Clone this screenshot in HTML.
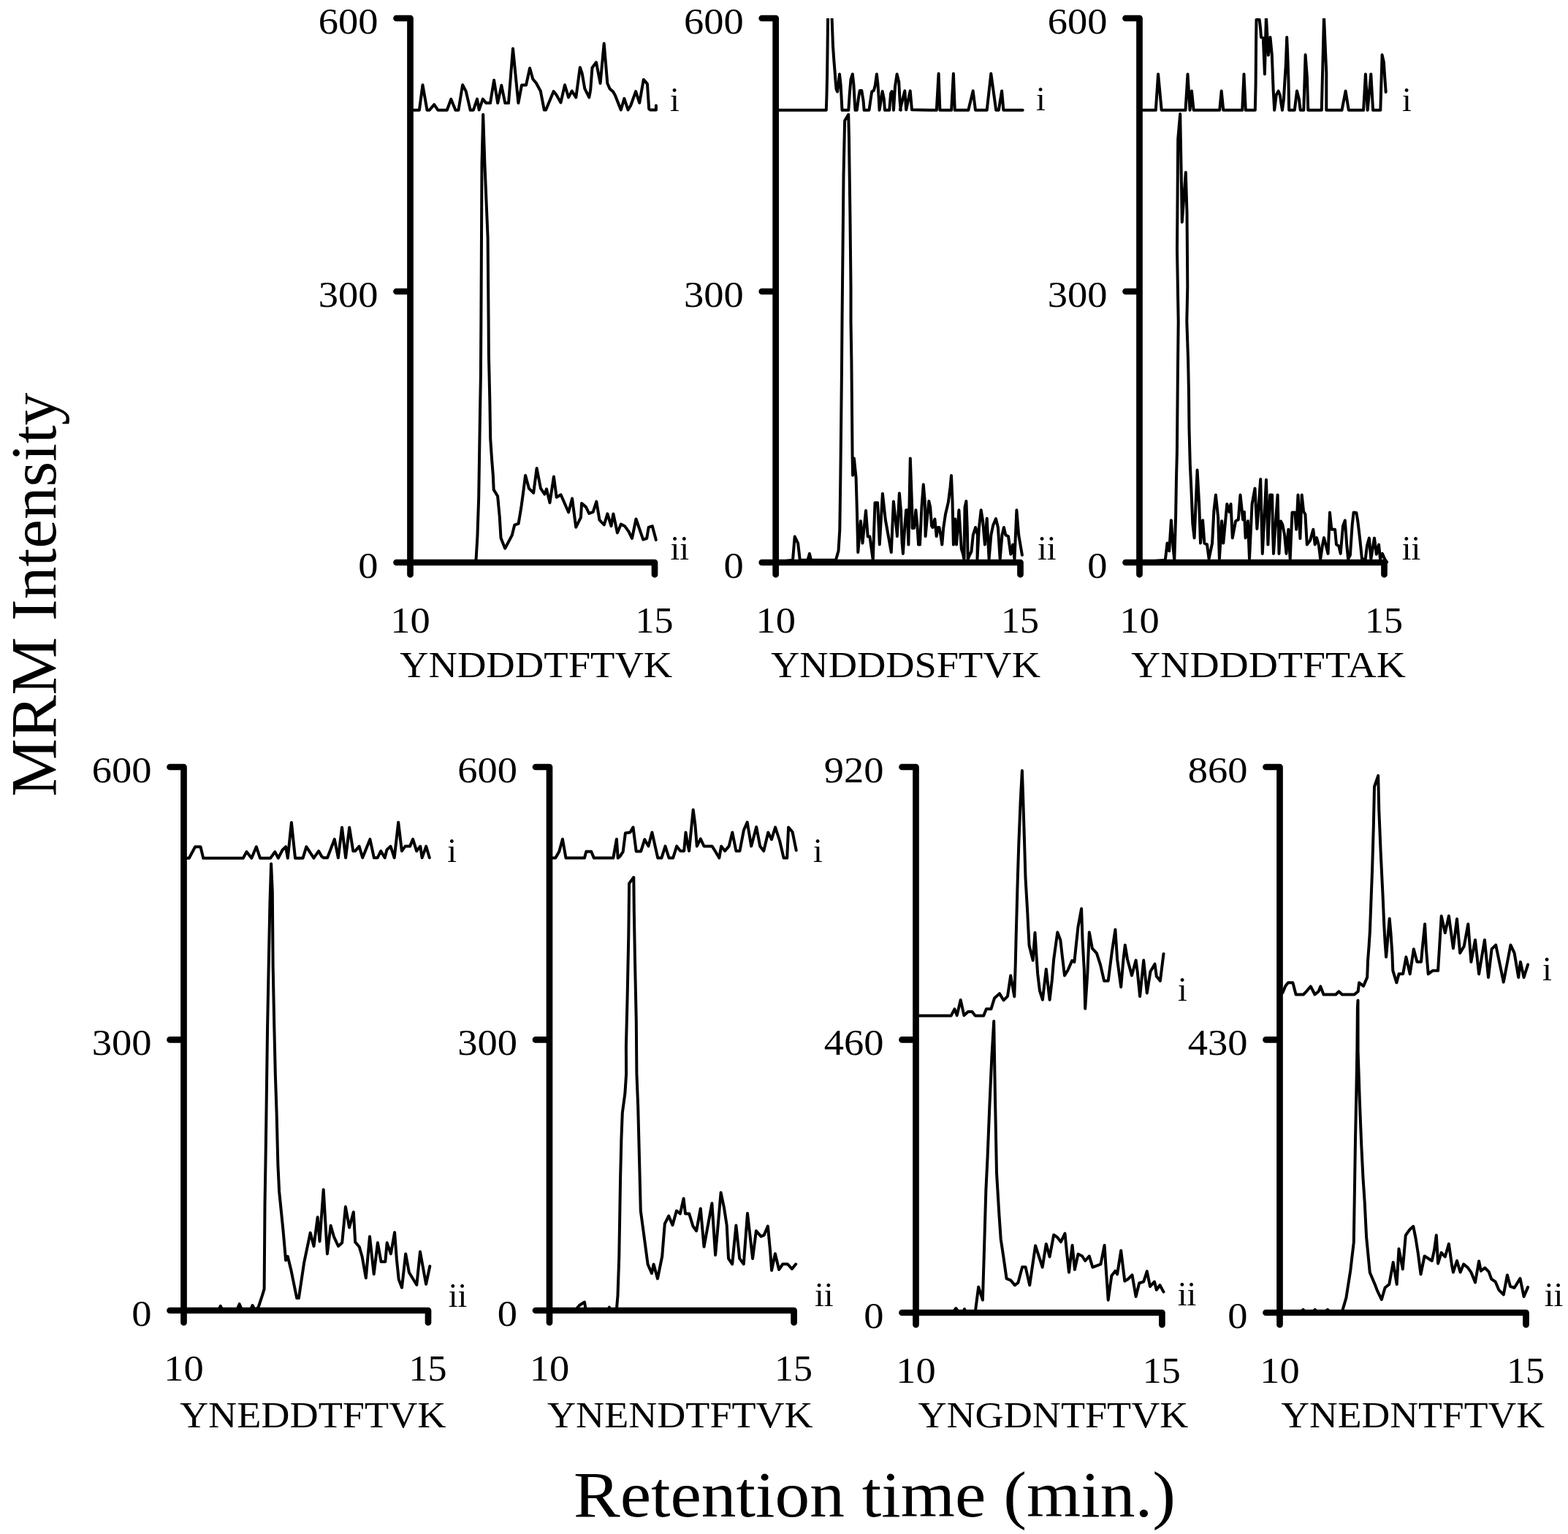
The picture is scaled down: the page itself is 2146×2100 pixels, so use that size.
<!DOCTYPE html>
<html><head><meta charset="utf-8"><title>MRM chromatograms</title>
<style>
html,body{margin:0;padding:0;background:#fff;}
svg{display:block;}
.ax{fill:none;stroke:#000;stroke-width:8.7;stroke-linecap:round;stroke-linejoin:round;}
.tr{fill:none;stroke:#000;stroke-width:4.0;stroke-linejoin:round;stroke-linecap:round;}
text{font-family:"Liberation Serif","Times New Roman",serif;fill:#000;}
.n{font-size:50px;}
.t{font-size:46px;}
.big{font-size:88px;}
</style></head><body>
<svg width="2146" height="2100" viewBox="0 0 2146 2100">
<rect width="2146" height="2100" fill="#fff"/>
<path d="M542.5 25H561.5V786.5M542.5 399H561.5M542.5 770H896V786.5" class="ax"/>
<text transform="translate(517.5 45.5) scale(1.09 1)" class="n" text-anchor="end">600</text>
<text transform="translate(517.5 419.5) scale(1.09 1)" class="n" text-anchor="end">300</text>
<text transform="translate(517.5 790.5) scale(1.09 1)" class="n" text-anchor="end">0</text>
<text transform="translate(561.5 866) scale(1.09 1)" class="n" text-anchor="middle">10</text>
<text transform="translate(895.4 866) scale(1.04 1)" class="n" text-anchor="middle">15</text>
<text x="917" y="151.8" class="t">i</text>
<text x="917.5" y="766" class="t">ii</text>
<text x="547" y="927" class="n" textLength="373.3" lengthAdjust="spacingAndGlyphs">YNDDDTFTVK</text>
<clipPath id="cA"><rect x="561.5" y="25" width="346.5" height="748"/></clipPath>
<path d="M565.5 150.7 573.9 150.7 578.5 116.3 584.5 150.7 587.7 150.7 594.2 143.1 599.3 150.7 611.8 150.7 617.3 135.7 623.4 150.7 627.5 150.7 633.1 116.3 637.7 124.9 643.7 150.7 647.9 150.7 653 135.6 655.7 150.4 660.8 135.6 665.4 141.1 671 141.1 676.1 109.8 681.2 141.1 686.3 116.8 691.3 141.1 696 141.1 702 66.4 709.4 141.1 714 116.6 720 116.6 725.1 93.2 729.3 108.3 733.9 113.8 739.4 124 739.7 124.2 744.8 150.5 747.1 150.5 757.7 125.1 761.4 129.7 767.5 140.4 773 116.3 778.1 133.4 782.7 124.6 788.3 133.4 793.8 92.3 796.6 100.1 800.3 121.4 806.3 133.4 808.2 123.2 810.5 92.7 816 85.3 821.6 114 826.7 59.4 831.3 114 834.5 121.4 839.1 125.6 841.9 130.6 849.8 150.5 854.4 134.8 859.5 150.5 863.2 144.5 870.1 125.1 875.2 140.8 880.8 108.9 885.9 114.9 888.2 149.1 890 150.5 897.9 150.5 897.9 144.5" class="tr" clip-path="url(#cA)"/>
<path d="M562 769.5 651 769.5 651.6 765 653.4 734.6 655.2 681.1 657 565 657.9 515 658.4 440 659.5 224 661.2 156.8 663.4 224 667.6 324.9 668.6 440 668.9 484.6 670.4 550.7 671.2 600.7 673 627.5 674.8 650.7 675.7 670.4 681.1 679.3 683.8 707.9 685.5 736.4 691.2 750.7 700.7 732.9 704.3 718.6 709.6 716.8 713.2 695.4 715.9 675.7 719.1 650.7 723.9 668.6 730.2 674.8 734.6 640.9 740 668.6 745.4 676.6 748 669.5 752.5 688.2 757.9 652.5 761.7 680.7 767.6 677.3 778.1 701.3 783.1 682.4 788.2 721.8 794.9 708.4 796.1 689.1 802 694.1 806.2 702.9 811.7 700.8 816.3 686.6 820.5 711.8 826.8 718.5 831.4 703.4 836.5 720.2 839.4 703.4 844.9 729.4 849.9 717.6 855 720.2 860.4 727.7 865 737 870.5 710.5 880.2 738.7 885.2 737 887.7 721.8 892.8 720.2 897.8 739.1" class="tr" clip-path="url(#cA)"/>
<path d="M1042.7 25H1061.7V786.5M1042.7 399H1061.7M1042.7 770H1396.5V786.5" class="ax"/>
<text transform="translate(1017.7 45.5) scale(1.09 1)" class="n" text-anchor="end">600</text>
<text transform="translate(1017.7 419.5) scale(1.09 1)" class="n" text-anchor="end">300</text>
<text transform="translate(1017.7 790.5) scale(1.09 1)" class="n" text-anchor="end">0</text>
<text transform="translate(1061.7 866) scale(1.09 1)" class="n" text-anchor="middle">10</text>
<text transform="translate(1395.9 866) scale(1.04 1)" class="n" text-anchor="middle">15</text>
<text x="1418" y="150.6" class="t">i</text>
<text x="1420" y="766" class="t">ii</text>
<text x="1055" y="927" class="n" textLength="369" lengthAdjust="spacingAndGlyphs">YNDDDSFTVK</text>
<clipPath id="cB"><rect x="1061.7" y="25" width="346.8" height="748"/></clipPath>
<path d="M1065.5 150.8 1130.8 150.8 1131.4 132.5 1132.1 101.9 1132.6 62.2 1133.1 20.5 1135.4 1.1 1138.4 20.5 1139.1 39 1140 63.1 1141.4 83.4 1142.6 98.2 1143.7 113 1144.6 122.3 1146.2 125.5 1149 101.5 1150.6 115.8 1151.8 137.1 1152.5 150.8 1161.3 150.8 1162.7 129.7 1164.5 108.4 1166.8 101.5 1168.4 115.8 1169.6 137.1 1170.5 150.8 1172.8 150.8 1175.2 132.5 1176.7 124.1 1179.3 124.1 1181.6 138 1182.6 150.8 1189.5 150.8 1191.3 138 1193.2 125.5 1196 123.7 1197.8 116.7 1199.9 101.5 1201.5 115.8 1202.9 137.1 1203.6 150.8 1205.7 138 1207.7 125.1 1209.8 135.2 1211 150.8 1217.2 150.8 1219.1 127.8 1220.7 125.1 1222.3 135.2 1223 150.8 1225.1 117.7 1227.6 101.5 1230.2 112.1 1231.6 138 1232.8 150.8 1231.8 150.3 1238.3 124.4 1240.2 150.3 1245.7 124.4 1248 150.3 1281.8 150.8 1284.6 100.8 1286.4 150.8 1302.1 150.8 1304.9 100.8 1306.8 150.8 1325.3 150.8 1331.7 124.4 1335 150.8 1350.7 150.8 1356.3 100.8 1363.2 150.8 1366.9 150.8 1371.1 124.4 1373.4 150.8 1399.7 150.8" class="tr" clip-path="url(#cB)"/>
<path d="M1062 769.5 1085 766.8 1087.7 734.6 1092.1 743.6 1094.8 766.8 1105.5 766.8 1107.9 757.9 1110 766.8 1143.9 766.8 1147.5 754.3 1149.3 725.7 1150.2 663.2 1151.1 586.4 1152 504.3 1152.5 440 1154.5 240.8 1156.1 165.2 1161.2 156.8 1162 190.4 1163.4 291.3 1164.5 392.1 1164.5 440 1165.4 493.6 1166.6 625.7 1167.1 650.7 1168.9 627.5 1171.6 654.3 1172.9 698.9 1174.3 756.1 1177.9 713.2 1180.5 743.6 1185 698.9 1187.7 734.6 1190.4 734.6 1194.8 766.8 1197.5 688.2 1201.1 688.2 1203.8 745.4 1207.9 675.7 1211.8 711.4 1219.8 756.1 1222.9 686.4 1227.9 732.9 1227.8 734.2 1230.9 675.2 1233 699.3 1234.5 741.8 1235.9 757.9 1238.2 722.9 1240.1 698.3 1241.5 698.3 1243.4 745.6 1245.8 627.4 1248.2 694.5 1248.6 722.9 1251 722.9 1253.4 698.3 1255.3 718.2 1257.1 745.6 1259 745.6 1261.4 694.5 1263.8 663.3 1265.7 685.1 1266.6 734.2 1268.5 713.4 1271.3 686 1273.2 694.5 1275.1 720.1 1276.5 722 1279.4 710.6 1281.7 734.2 1283.6 722 1285.5 722 1287.4 732.4 1289.3 745.6 1291.2 722.9 1294 704 1297.8 687.9 1300.6 666.2 1302 651 1303.5 685.1 1304.9 745.6 1307.2 710.6 1309.1 745.6 1312.4 698.3 1314.3 727.6 1315.8 751.3 1318.1 758.8 1319.5 766.4 1320.5 694.5 1322.4 686 1323.8 722.9 1324.7 765.4 1327.1 759.8 1329.5 755 1331.8 732.4 1335.1 722 1338 732.4 1337.5 765.4 1339.9 722.9 1342.7 698.3 1345.1 713.4 1347.9 745.6 1350.7 709.7 1353.6 765.4 1356.4 732.4 1359.2 719.1 1363 710.1 1365.9 722 1368.7 765.4 1371.5 732.4 1373.9 722 1376.3 732.4 1380 734.2 1383.3 758.8 1386.2 745.6 1388.5 765.4 1391.4 698.3 1394.2 732.4 1398.9 759.8" class="tr" clip-path="url(#cB)"/>
<path d="M1540.5 25H1559.5V786.5M1540.5 399H1559.5M1540.5 770H1894.5V786.5" class="ax"/>
<text transform="translate(1515.5 45.5) scale(1.09 1)" class="n" text-anchor="end">600</text>
<text transform="translate(1515.5 419.5) scale(1.09 1)" class="n" text-anchor="end">300</text>
<text transform="translate(1515.5 790.5) scale(1.09 1)" class="n" text-anchor="end">0</text>
<text transform="translate(1559.5 866) scale(1.09 1)" class="n" text-anchor="middle">10</text>
<text transform="translate(1893.9 866) scale(1.04 1)" class="n" text-anchor="middle">15</text>
<text x="1919" y="151.8" class="t">i</text>
<text x="1918.8" y="765.5" class="t">ii</text>
<text x="1548" y="927" class="n" textLength="375.9" lengthAdjust="spacingAndGlyphs">YNDDDTFTAK</text>
<clipPath id="cC"><rect x="1559.5" y="25" width="347" height="748"/></clipPath>
<path d="M1563.8 150.8 1581.8 150.8 1585.1 101.5 1589.7 150.8 1622.5 150.8 1625.5 101.5 1628.5 150.8 1631 124.6 1633.6 150.8 1669.2 150.8 1671.7 124.6 1674.3 150.8 1700.2 150.8 1702.5 101.5 1704.8 150.8 1717.8 150.8 1718.6 115.8 1719.1 56.6 1719.5 27 1723.7 27 1725.1 39 1726 51.1 1728.8 52 1730.9 101.5 1732.9 22.4 1735.9 75.6 1738.5 51.1 1740.8 75.1 1742.7 124.1 1744.2 150.8 1746.8 129.7 1749.6 124.6 1751.9 130.6 1753.3 140.8 1755 150.8 1757 135.2 1758.4 110.3 1759.8 89 1761.2 51.1 1762.1 70.5 1763.5 112.1 1764.2 150.8 1771.8 150.8 1775 124.6 1777.8 135.2 1779.7 150.8 1784.3 150.8 1786.6 75.1 1788.9 105.6 1790.3 150.8 1808.8 150.8 1812 22.4 1815.3 100.1 1815.3 150.8 1836.5 150.8 1841.6 124.6 1845.8 150.8 1866.1 150.8 1868.9 101.5 1871.7 150.8 1876.3 101.5 1879.1 150.8 1889.3 150.8 1891.6 75.1 1893.9 85.3 1895.3 106.6 1896.7 126" class="tr" clip-path="url(#cC)"/>
<path d="M1562 769.5 1594.8 766.8 1597.5 743.6 1600.2 754.3 1602.9 712.3 1605.5 748.9 1607.3 766.8 1609.1 707.9 1610 654.3 1610.9 618.6 1611.8 522.1 1612.7 440 1611 341.9 1612.2 190.5 1615.2 156 1616.9 249.4 1617.8 304.1 1622.8 235.9 1624.5 291.4 1625.3 392.4 1624.3 440 1626.1 493.6 1627 538.2 1627.5 586.4 1628.8 636.4 1630.5 672.1 1632.3 716.8 1634.6 736.4 1638.6 643.6 1641.2 690 1643 743.6 1646.1 712.3 1648.4 743.6 1652 745.4 1654.6 765 1659.1 743.6 1661.4 698.9 1663.9 677.5 1667.1 707.9 1668.9 765 1672.1 713.2 1674.3 743.6 1679.3 690 1682.3 700.7 1684.5 690 1686.8 736.4 1691.2 713.2 1694.8 711.4 1697.5 677.5 1701.1 711.4 1702.9 700.7 1704.6 736.4 1707.9 713.2 1710 765 1713.6 690 1717.5 668.6 1720.4 723.9 1725.2 656.1 1727.8 757.9 1733 656.7 1735.4 745.6 1738.2 677.5 1741.1 677.5 1742 727.6 1743 757.9 1745.3 722.9 1748.6 677.5 1750.5 757.9 1752.9 713.4 1755.3 718.2 1758.1 732.4 1760.5 757.9 1763.3 724.8 1765.7 765.4 1768.5 701.6 1772.3 701.6 1774.2 724.8 1776.5 677.5 1779.4 737.1 1781.7 677.5 1784.1 700.2 1786.4 704 1788.8 745.6 1793.1 739.9 1797.3 724.8 1799.7 745.6 1802 736.1 1804.9 746.5 1807.2 765.4 1810.1 745.6 1812 736.1 1817.6 757.9 1820 701.6 1822.4 724.8 1827.1 724.8 1829 745.6 1832.3 747.5 1834.7 757.9 1838 720.1 1840.8 712.5 1843.2 745.6 1845.1 765.4 1847.9 759.8 1850.7 718.2 1852.6 701.6 1856.4 702.1 1858.3 713.4 1861.1 737.1 1864 765.4 1868.7 765.4 1871.1 746.5 1873.9 736.6 1876.3 765.4 1878.6 751.3 1881 736.6 1883.8 758.8 1887.1 745.6 1889 765.4 1891.9 757.9 1895.2 765.4 1898 769.5" class="tr" clip-path="url(#cC)"/>
<path d="M232.5 1050H251.5V1810.5M232.5 1423.4H251.5M232.5 1794H586V1810.5" class="ax"/>
<text transform="translate(207.5 1070.5) scale(1.09 1)" class="n" text-anchor="end">600</text>
<text transform="translate(207.5 1443.9) scale(1.09 1)" class="n" text-anchor="end">300</text>
<text transform="translate(207.5 1814.5) scale(1.09 1)" class="n" text-anchor="end">0</text>
<text transform="translate(251.5 1890) scale(1.09 1)" class="n" text-anchor="middle">10</text>
<text transform="translate(585.4 1890) scale(1.04 1)" class="n" text-anchor="middle">15</text>
<text x="612.2" y="1180" class="t">i</text>
<text x="613.8" y="1789.2" class="t">ii</text>
<text x="245.9" y="1954" class="n" textLength="364.6" lengthAdjust="spacingAndGlyphs">YNEDDTFTVK</text>
<clipPath id="cD"><rect x="251.5" y="1050" width="346.5" height="747"/></clipPath>
<path d="M255.5 1174.7 258.8 1174.7 267.1 1159.2 274.5 1159.2 278.2 1174.7 332.8 1174.7 337.4 1166.1 344.3 1174.7 350.8 1159.2 355.9 1174.7 370.2 1174.7 376.3 1166.1 380.9 1174.7 386.4 1163.8 391.1 1159.2 393.8 1174.7 398.9 1125.9 404 1174.7 414.6 1174.7 419.3 1159.2 429.4 1174.7 436.1 1165.1 440.3 1172.5 443 1174.3 448.1 1174.3 457.8 1148.9 462.9 1174.3 468 1132.7 473.1 1174.3 478.2 1132.7 483.3 1165.1 486 1165.1 491.6 1158.6 496.2 1174.3 506.4 1148.9 511.9 1174.3 516.6 1174.3 521.2 1165.1 526.7 1174.3 529.5 1163.2 534.6 1158.6 539.7 1174.3 545.2 1125.8 549.9 1165.1 554.5 1158.6 561 1158.6 565.1 1148.9 570.2 1165.1 575.3 1158.6 577.6 1174.3 583.2 1158.6 587.8 1174.3" class="tr" clip-path="url(#cD)"/>
<path d="M255.4 1793.5 299.1 1793.5 301.8 1787.9 304.5 1793.5 324.1 1793.5 327.7 1785.2 331.2 1793.5 342.9 1793.5 345.5 1787 349.1 1793.5 353.6 1789.6 358.9 1773.6 361.6 1764.6 362.1 1702.1 362.5 1648.6 363.4 1595 364.3 1536.1 365.2 1470 366.1 1405.3 367.7 1321.3 369.4 1237.2 371.1 1182.6 372.8 1220.4 373.6 1321.3 375.3 1405.3 376.8 1470 378.6 1523.6 380.4 1595 382.1 1630.7 384.8 1657.5 387.5 1684.3 391.1 1725.4 393.8 1720 398.2 1737.9 406.2 1777.1 408.9 1777.1 416.1 1728.9 424.7 1687.6 429.5 1706 434.7 1666.3 437.5 1699.4 442.7 1628.5 447.9 1716.4 452.6 1677.7 456.9 1692.8 463 1706 468.2 1701.3 472.9 1652.1 478.1 1680.5 483.8 1659.2 486.2 1700.4 491.8 1707 495.6 1720.2 500.8 1749.5 506 1692.8 511.7 1744.3 516.9 1701.3 521.6 1727.3 527.3 1727.3 529.7 1701.3 534.9 1716.4 540.1 1687.1 542.9 1724 545.7 1751.4 550 1762.7 555.2 1716.4 559.9 1742 570.3 1759 575 1713.6 583.1 1758 588.3 1733.4" class="tr" clip-path="url(#cD)"/>
<path d="M733 1050H752V1810.5M733 1423.4H752M733 1794H1086.6V1810.5" class="ax"/>
<text transform="translate(708 1070.5) scale(1.09 1)" class="n" text-anchor="end">600</text>
<text transform="translate(708 1443.9) scale(1.09 1)" class="n" text-anchor="end">300</text>
<text transform="translate(708 1814.5) scale(1.09 1)" class="n" text-anchor="end">0</text>
<text transform="translate(752 1890) scale(1.09 1)" class="n" text-anchor="middle">10</text>
<text transform="translate(1086 1890) scale(1.04 1)" class="n" text-anchor="middle">15</text>
<text x="1113" y="1179.9" class="t">i</text>
<text x="1114.9" y="1787.9" class="t">ii</text>
<text x="749" y="1954" class="n" textLength="363.7" lengthAdjust="spacingAndGlyphs">YNENDTFTVK</text>
<clipPath id="cE"><rect x="752" y="1050" width="346.6" height="747"/></clipPath>
<path d="M755.5 1174.6 760.2 1174.6 765.3 1165.8 769.9 1148.7 774.5 1174.6 799.9 1174.6 802.3 1165.8 809.2 1165.8 812.9 1174.6 839.3 1174.6 843.9 1148.7 845.7 1174.6 848.5 1172.3 852.7 1165.8 855.9 1140.4 862.4 1139.5 866.5 1132.5 870.7 1165.4 877.2 1165.4 882.3 1149.2 887.4 1158.4 892.4 1139.5 900.3 1174.6 905.4 1174.6 910.5 1158.4 915.6 1174.6 921.1 1174.6 926.2 1158.4 931.1 1164.9 936.2 1164.9 938.5 1139.5 940.8 1153.8 943.1 1164.9 945.4 1141.8 948.7 1108.5 951.4 1128.8 953.8 1158.4 958.8 1148.3 963.5 1158.4 974.6 1158.4 979.2 1165.8 984.3 1174.6 987.1 1158.4 992.1 1164.9 997.7 1158.4 1002.3 1139.5 1007.4 1164.9 1012.5 1164.9 1018 1136.2 1022.7 1125.6 1028.2 1158.4 1035.2 1132.1 1040.2 1158.4 1045.3 1164.9 1051.3 1139.5 1056 1149.2 1061.1 1132.5 1067.1 1151 1072.6 1174.6 1077.2 1174.6 1079.1 1132.5 1084.6 1139 1089.7 1164" class="tr" clip-path="url(#cE)"/>
<path d="M755.4 1793.5 787.5 1793.5 792.9 1787 800 1782.5 801.8 1793.5 832.1 1793.5 833.9 1789.6 835.7 1793.5 843.8 1793.5 845.5 1773.6 847.3 1720 848.2 1666.4 849.1 1612.9 850.4 1559.3 851.8 1523.6 855.4 1496.8 857.1 1470 856.9 1432.1 858.6 1364.9 860.3 1280.8 861.1 1209.4 867.3 1201 867.8 1247.2 869 1314.5 870.8 1398.5 871.4 1470 873.2 1514.6 875 1586.1 876.8 1657.5 880.4 1684.3 886.6 1730.7 892 1743.2 894.6 1730.7 900 1750.4 906.2 1720 909.8 1675.4 915.2 1664.6 920.5 1677.1 925.9 1657.5 930.9 1661.4 935.6 1640.7 938 1661.4 943.2 1661.4 948.4 1678.5 953.1 1685.1 958.8 1654.4 963.5 1706.8 974.4 1647.3 979.1 1718.2 986.6 1632.6 990.9 1652.9 994.7 1677.5 997 1722.9 1002.2 1730.5 1007.4 1677.5 1012.2 1722.9 1017.8 1730.5 1023 1661 1030.1 1722.9 1034.9 1685.1 1041.5 1692.6 1045.7 1690.8 1050.9 1678.5 1054.2 1713.4 1056.1 1739 1060.9 1716.3 1066.1 1738 1071.3 1730.5 1077.9 1730.5 1084 1737.1 1089.2 1730.5" class="tr" clip-path="url(#cE)"/>
<path d="M1234.5 1050H1253.5V1813.5M1234.5 1423.4H1253.5M1234.5 1797H1590.4V1813.5" class="ax"/>
<text transform="translate(1209.5 1070.5) scale(1.09 1)" class="n" text-anchor="end">920</text>
<text transform="translate(1209.5 1443.9) scale(1.09 1)" class="n" text-anchor="end">460</text>
<text transform="translate(1209.5 1817.5) scale(1.09 1)" class="n" text-anchor="end">0</text>
<text transform="translate(1253.5 1893) scale(1.09 1)" class="n" text-anchor="middle">10</text>
<text transform="translate(1589.8 1893) scale(1.04 1)" class="n" text-anchor="middle">15</text>
<text x="1612" y="1370" class="t">i</text>
<text x="1611.8" y="1787.4" class="t">ii</text>
<text x="1256.4" y="1954" class="n" textLength="370" lengthAdjust="spacingAndGlyphs">YNGDNTFTVK</text>
<clipPath id="cF"><rect x="1253.5" y="1050" width="348.9" height="750"/></clipPath>
<path d="M1257.9 1390.4 1301.8 1390.4 1306.4 1381.3 1309.7 1390.1 1314.7 1368.9 1319.4 1390.1 1324.9 1385 1330.5 1385 1334.6 1390.4 1346.2 1390.4 1349.9 1381.3 1356.4 1381.3 1361 1366.5 1367.9 1360.1 1373.5 1369.3 1379 1363.8 1383.2 1335.6 1388.3 1364.2 1389.7 1322.1 1390.6 1284.2 1392.5 1213.3 1394.3 1155.5 1396.6 1097.8 1398.9 1055 1400 1086.2 1401.8 1144 1403.5 1201.7 1406.3 1250 1407.2 1268.5 1408.6 1294.4 1413.7 1314.7 1416.5 1276.8 1418.3 1305.5 1420.2 1333.2 1423 1356.4 1426.9 1368.7 1431.8 1326.7 1433.9 1345.6 1436.6 1368.7 1439.9 1341 1442.2 1313.2 1447.3 1276.2 1451.4 1287.3 1453.8 1308.6 1457 1335.4 1461.6 1328 1467.2 1315.1 1470.4 1316.9 1472.7 1294.7 1475.5 1268.8 1480.1 1243.9 1481.5 1285.5 1483.8 1327.1 1485.2 1380.8 1488.4 1331.7 1490.8 1276.2 1494.9 1298.4 1500.9 1304.9 1506 1320.6 1511.1 1342.8 1516.7 1342.8 1521.7 1304 1526.4 1272.5 1529.1 1313.2 1534.2 1351.2 1537.5 1313.2 1539.8 1293.8 1543 1313.2 1549 1335.4 1554.6 1314.6 1556.9 1331.7 1560.1 1364.1 1565.2 1314.6 1569.8 1359.5 1574.5 1329.9 1580.5 1319.7 1582.8 1336.4 1587.9 1342.8 1592.5 1305.8" class="tr" clip-path="url(#cF)"/>
<path d="M1257.9 1796.5 1304.2 1796.5 1308.3 1791 1312.1 1796.5 1317.8 1796.5 1320 1792.1 1322.3 1796.5 1334.7 1796.5 1339.2 1761.7 1344.9 1779.7 1347.1 1707.5 1349.4 1628.4 1351.6 1583.3 1354.3 1515.5 1357.3 1447.8 1360.2 1398.1 1361.8 1492.9 1364 1605.8 1367.4 1662.3 1369.7 1696.2 1373.1 1718.8 1377.6 1750.4 1383.2 1752.6 1388.9 1759.4 1393.4 1756 1399.1 1734.6 1403.6 1734.6 1409.2 1759.4 1417.1 1705.2 1426.7 1734.8 1431.8 1702.9 1436.6 1720.5 1442.2 1690.4 1446.8 1693.6 1451.9 1700.1 1457.5 1688.6 1459.8 1712.1 1463 1741.7 1467.6 1704.7 1470.9 1738 1475.5 1716.8 1481 1719.5 1485.2 1726 1490.8 1719.5 1495.4 1734.8 1506.5 1730.6 1511.6 1704.7 1513.4 1732.5 1516.7 1779.7 1521.3 1746.4 1526.4 1739.9 1529.1 1744.5 1534.2 1712.1 1539.3 1753.8 1543.9 1751 1549.5 1745.4 1554.6 1775 1559.2 1756.5 1565.2 1754.7 1569.8 1740.4 1574 1761.2 1580 1754.7 1582.8 1765.8 1587.4 1759.3 1592.5 1768.6" class="tr" clip-path="url(#cF)"/>
<path d="M1732.5 1050H1751.5V1813.5M1732.5 1423.4H1751.5M1732.5 1797H2088.5V1813.5" class="ax"/>
<text transform="translate(1707.5 1070.5) scale(1.09 1)" class="n" text-anchor="end">860</text>
<text transform="translate(1707.5 1443.9) scale(1.09 1)" class="n" text-anchor="end">430</text>
<text transform="translate(1707.5 1817.5) scale(1.09 1)" class="n" text-anchor="end">0</text>
<text transform="translate(1751.5 1893) scale(1.09 1)" class="n" text-anchor="middle">10</text>
<text transform="translate(2087.9 1893) scale(1.04 1)" class="n" text-anchor="middle">15</text>
<text x="2111" y="1342" class="t">i</text>
<text x="2113.7" y="1787.7" class="t">ii</text>
<text x="1753.2" y="1954" class="n" textLength="360.8" lengthAdjust="spacingAndGlyphs">YNEDNTFTVK</text>
<clipPath id="cG"><rect x="1751.5" y="1050" width="349" height="750"/></clipPath>
<path d="M1755.5 1359.1 1759.2 1349.9 1762.9 1345.3 1769.4 1345.3 1773.6 1361.5 1783.8 1361.5 1787.9 1357.3 1793.9 1350.4 1799.5 1361.5 1804.6 1357.3 1807.3 1350.4 1811.5 1361.5 1828.2 1361.5 1832.3 1357.3 1836.9 1361.5 1853.6 1361.5 1858.7 1357.3 1860.1 1345.3 1866.1 1349.9 1871.2 1337.9 1872.1 1314.7 1873.5 1296.2 1874.9 1275 1878.1 1190.2 1879.8 1132.4 1881 1077 1886.2 1061.9 1887.3 1109.3 1889.7 1167.1 1892.5 1224.8 1894.3 1266.6 1895.7 1291.6 1897.1 1310.1 1901.7 1257.4 1903.5 1277.7 1905.4 1305.5 1906.3 1328.6 1911.4 1345.3 1914.6 1333.2 1920.2 1333.2 1924.4 1310.1 1929.7 1333.4 1934.8 1299.2 1939.4 1316.8 1945 1316.8 1946.8 1297.3 1950.1 1265 1951.9 1299.2 1954.7 1333.4 1960.7 1328.8 1968.1 1328.8 1969.9 1299.2 1972.7 1253.9 1977.8 1277 1982.9 1253.9 1988.9 1298.3 1994 1258 1998.2 1304.7 2003.7 1295.5 2009.3 1265 2013.4 1316.8 2019 1286.7 2024.1 1333.4 2031.9 1286.7 2037 1338 2041.6 1299.2 2047.2 1293.6 2057.8 1344.5 2067.5 1293.6 2072.6 1304.7 2078.2 1338 2080.9 1316.8 2085.6 1338 2091.1 1320.5" class="tr" clip-path="url(#cG)"/>
<path d="M1755.8 1796.5 1780 1796.5 1783.5 1792.8 1787 1796.5 1796.2 1796.5 1799.7 1792.8 1803.1 1796.5 1812.4 1796.5 1817 1792.8 1820.5 1796.5 1836.6 1796.5 1842.4 1776.7 1848.2 1739.7 1852.8 1700.4 1854 1624.2 1855.1 1554.8 1856.3 1497.1 1857.4 1434.7 1857.9 1379.2 1858.5 1369.5 1858.6 1439.3 1860.9 1508.6 1863.2 1566.4 1865.5 1612.6 1867.8 1647.3 1870.1 1693.5 1874.8 1742 1881.7 1758.2 1885.2 1767.4 1890.9 1779 1895.6 1762.8 1901.3 1758.2 1906.7 1728.1 1911.7 1758.2 1914.5 1709.6 1919.8 1737.4 1923.8 1691.2 1929.2 1683.5 1934.3 1678.8 1937.6 1695.5 1940.8 1715.8 1944.5 1744.5 1949.6 1719.5 1959.8 1726 1963 1711.2 1965.8 1690.9 1968.1 1729.7 1972.7 1714.9 1977.8 1720.5 1982.9 1702.9 1987.1 1732.5 1988.9 1741.7 1994 1726 1998.6 1741.7 2003.2 1730.6 2008.8 1735.3 2013.4 1741.7 2019 1755.6 2024.1 1726.5 2026.8 1739.9 2032.4 1735.7 2037.5 1740.8 2041.2 1751 2046.7 1754.7 2051.3 1765.8 2057.8 1772.3 2062.9 1745.4 2067.1 1761.2 2072.6 1763 2080.5 1750.1 2085.6 1775 2091.1 1762.1" class="tr" clip-path="url(#cG)"/>
<text class="big" transform="translate(76 1090.5) rotate(-90)" textLength="553" lengthAdjust="spacingAndGlyphs">MRM Intensity</text>
<text class="big" x="785" y="2076" textLength="824" lengthAdjust="spacingAndGlyphs">Retention time (min.)</text>
</svg>
</body></html>
